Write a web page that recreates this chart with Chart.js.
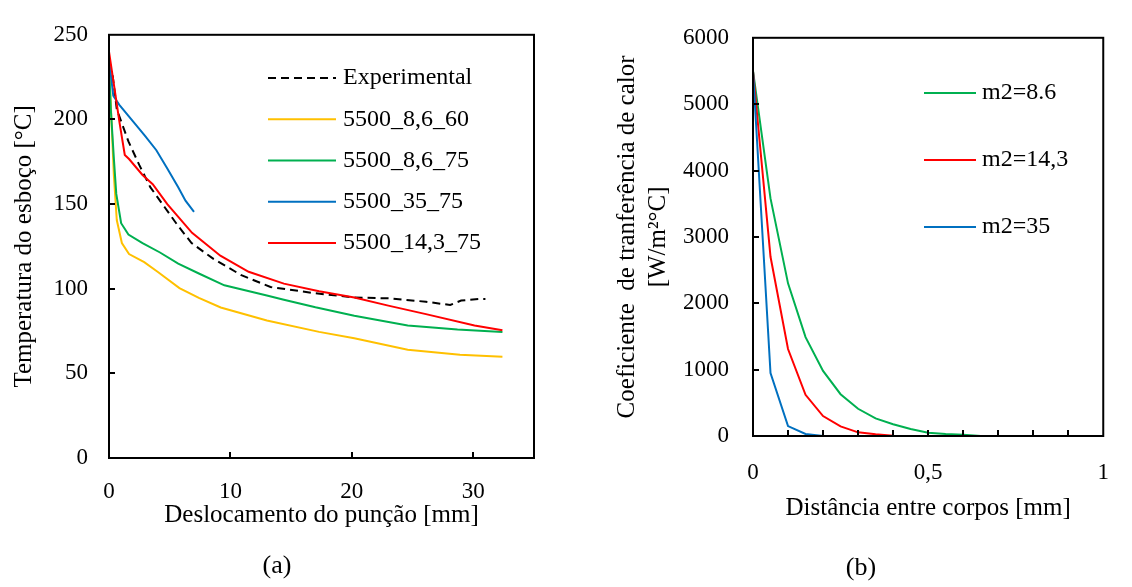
<!DOCTYPE html>
<html>
<head>
<meta charset="utf-8">
<script src="https://cdn.jsdelivr.net/npm/chart.js@4.4.1/dist/chart.umd.min.js"></script>
<style>
  html, body { margin: 0; padding: 0; background: #fff; }
  .box { position: absolute; top: 0; }
</style>
</head>
<body>
<div class="box" style="left:0"><canvas id="chartA" width="554" height="587"></canvas></div>
<div class="box" style="left:590px"><canvas id="chartB" width="542" height="587"></canvas></div>
<script>
// (a) temperatura x deslocamento
const expX = [0.3, 0.64, 1.6, 2.5, 3.4, 4.6, 5.7, 6.8, 8.6, 10.9, 13.3, 16.8, 20.2, 23.2, 26.1, 28.1, 29, 30.6, 31];
const expY = [226, 206, 187, 173, 160, 148, 137, 127, 117.6, 108, 101, 97.5, 94.8, 94.3, 92.3, 90.4, 93, 94, 94];

const s60X = [0, 0.2, 0.4, 0.64, 1.06, 1.65, 2.9, 4.0, 5.8, 7.4, 9.2, 13, 17.3, 20.2, 24.6, 28.9, 32.4];
const s60Y = [234, 200, 167, 140.6, 127, 120.5, 115.7, 110, 100.4, 94.6, 88.9, 81.2, 74.5, 70.7, 64, 61, 59.8];

const s86X = [0, 0.15, 0.4, 0.6, 1.0, 1.6, 2.76, 4.2, 5.7, 7.4, 9.5, 13, 14.4, 17, 20.2, 24.6, 28.7, 32.4];
const s86Y = [232, 206, 177, 156, 138.7, 132, 127, 121.4, 114.8, 109, 102, 96, 93.5, 89, 84, 78.3, 75.9, 74.5];

const s35X = [0, 0.35, 0.85, 2.2, 3.0, 3.9, 4.8, 5.7, 6.3, 7.0];
const s35Y = [236, 214, 208.6, 197, 190, 181.8, 171, 160, 152, 145.4];

const s143X = [0, 0.44, 0.87, 1.3, 1.65, 2.76, 3.6, 4.8, 6.84, 9.17, 11.5, 14.4, 17.3, 20.2, 23, 26.1, 30.1, 32.4];
const s143Y = [240, 219, 198, 179, 176.6, 167.2, 161.7, 150, 133, 119.5, 110, 103, 98.5, 94.8, 90, 85, 78.3, 75.5];

// (b) coeficiente x distancia
const distX = [0, 0.05, 0.1, 0.15, 0.2, 0.25, 0.3, 0.35, 0.4, 0.45, 0.5, 0.55, 0.6, 0.65, 0.7, 0.75, 0.8, 0.85, 0.9, 0.95, 1];
const m86 = [5500, 3580, 2300, 1490, 980, 630, 410, 265, 178, 105, 50, 30, 20, 0, 0, 0, 0, 0, 0, 0, 0];
const m143 = [5500, 2700, 1310, 620, 300, 145, 55, 25, 5, 0, 0, 0, 0, 0, 0, 0, 0, 0, 0, 0, 0];
const m35 = [5500, 950, 150, 30, 0, 0, 0, 0, 0, 0, 0, 0, 0, 0, 0, 0, 0, 0, 0, 0, 0];

const pts = (xs, ys) => xs.map((x, i) => ({x: x, y: ys[i]}));

Chart.defaults.font.family = '"Liberation Serif", "Times New Roman", serif';
Chart.defaults.font.size = 23;
Chart.defaults.color = '#000';

// moldura, marcas internas e legenda dentro do grafico
const frame = {
  id: 'frame',
  afterDatasetsDraw(chart, args, opts) {
    const {ctx, chartArea: a, scales: {x, y}} = chart;
    ctx.save();
    ctx.strokeStyle = '#000';
    ctx.lineWidth = 2;
    ctx.beginPath();
    x.ticks.forEach(t => {
      if (t.value > x.min + 1e-9 && t.value < x.max - 1e-9) {
        const px = Math.round(x.getPixelForValue(t.value));
        ctx.moveTo(px, a.bottom);
        ctx.lineTo(px, a.bottom - opts.len);
      }
    });
    y.ticks.forEach(t => {
      if (t.value > y.min && t.value < y.max) {
        const py = Math.round(y.getPixelForValue(t.value));
        ctx.moveTo(a.left, py);
        ctx.lineTo(a.left + opts.len, py);
      }
    });
    ctx.stroke();
    ctx.strokeRect(a.left, a.top, a.right - a.left, a.bottom - a.top);

    ctx.font = opts.fontSize + 'px "Liberation Serif", serif';
    ctx.textBaseline = 'middle';
    ctx.textAlign = 'left';
    chart.data.datasets.forEach((ds, i) => {
      const ly = opts.y0 + i * opts.dy;
      ctx.beginPath();
      ctx.strokeStyle = ds.borderColor;
      ctx.lineWidth = ds.borderWidth;
      ctx.setLineDash(ds.borderDash || []);
      ctx.moveTo(opts.x0, ly);
      ctx.lineTo(opts.x1, ly);
      ctx.stroke();
      ctx.setLineDash([]);
      ctx.fillStyle = '#000';
      ctx.fillText(ds.label, opts.tx, ly);
    });
    ctx.restore();
  }
};

new Chart(document.getElementById('chartA'), {
  type: 'line',
  data: {
    datasets: [
      {label: 'Experimental', data: pts(expX, expY), borderColor: '#000', borderDash: [8, 5], borderWidth: 2, order: 2},
      {label: '5500_8,6_60', data: pts(s60X, s60Y), borderColor: '#FFC000', borderWidth: 2, order: 4},
      {label: '5500_8,6_75', data: pts(s86X, s86Y), borderColor: '#00B050', borderWidth: 2, order: 3},
      {label: '5500_35_75', data: pts(s35X, s35Y), borderColor: '#0070C0', borderWidth: 2, order: 1},
      {label: '5500_14,3_75', data: pts(s143X, s143Y), borderColor: '#FF0000', borderWidth: 2, order: 0}
    ]
  },
  options: {
    responsive: false,
    animation: false,
    elements: { point: { radius: 0 }, line: { tension: 0 } },
    layout: { padding: { top: 23, right: 16, left: 16, bottom: 0 } },
    scales: {
      x: {
        type: 'linear', min: 0, max: 35,
        grid: { drawOnChartArea: false, drawTicks: false },
        border: { display: false },
        ticks: { stepSize: 10, padding: 20, maxRotation: 0, callback: v => v === 35 ? '' : String(v) },
        title: { display: true, text: 'Deslocamento do punção [mm]', font: { size: 25 }, padding: { top: 0, bottom: 20.8 } },
        afterFit: s => { s.height = 92.8; }
      },
      y: {
        min: 0, max: 250,
        grid: { drawOnChartArea: false, drawTicks: false },
        border: { display: false },
        ticks: { stepSize: 50, padding: 21 },
        title: { display: true, text: 'Temperatura do esboço [°C]', font: { size: 25 }, padding: { top: -7, bottom: 0 } },
        afterFit: s => { s.width = 93; }
      }
    },
    plugins: {
      legend: { display: false },
      tooltip: { enabled: false },
      title: { display: true, position: 'bottom', text: '(a)', font: { size: 26, weight: 'normal' }, padding: { top: 0, bottom: 5 } },
      frame: { len: 6, x0: 268, x1: 336, tx: 343, y0: 78, dy: 41.25, fontSize: 24 }
    }
  },
  plugins: [frame]
});

new Chart(document.getElementById('chartB'), {
  type: 'line',
  data: {
    datasets: [
      {label: 'm2=8.6', data: pts(distX, m86), borderColor: '#00B050', borderWidth: 2, order: 2},
      {label: 'm2=14,3', data: pts(distX, m143), borderColor: '#FF0000', borderWidth: 2, order: 1},
      {label: 'm2=35', data: pts(distX, m35), borderColor: '#0070C0', borderWidth: 2, order: 0}
    ]
  },
  options: {
    responsive: false,
    animation: false,
    elements: { point: { radius: 0 }, line: { tension: 0 } },
    layout: { padding: { top: 31, right: 8, left: 8, bottom: 0 } },
    scales: {
      x: {
        type: 'linear', min: 0, max: 1,
        grid: { drawOnChartArea: false, drawTicks: false },
        border: { display: false },
        ticks: {
          stepSize: 0.1, padding: 23, maxRotation: 0, autoSkip: false,
          callback: v => Math.abs(v) < 1e-9 ? '0' : (Math.abs(v - 0.5) < 1e-9 ? '0,5' : (Math.abs(v - 1) < 1e-9 ? '1' : ''))
        },
        title: { display: true, text: 'Distância entre corpos [mm]', font: { size: 25 }, padding: { top: 0, bottom: 29.4 } },
        afterFit: s => { s.height = 116.4; }
      },
      y: {
        min: 0, max: 6000,
        grid: { drawOnChartArea: false, drawTicks: false },
        border: { display: false },
        ticks: { stepSize: 1000, padding: 24, callback: v => String(v) },
        title: { display: true, text: ['Coeficiente  de tranferência de calor', '[W/m²°C]'], font: { size: 25, lineHeight: 1.24 }, padding: { top: 13.5, bottom: 0 } },
        afterFit: s => { s.width = 155; }
      }
    },
    plugins: {
      legend: { display: false },
      tooltip: { enabled: false },
      title: { display: true, position: 'bottom', text: '(b)', font: { size: 26, weight: 'normal' }, padding: { top: 0, bottom: 3.4 } },
      frame: { len: 6, x0: 334, x1: 386, tx: 392, y0: 93, dy: 67, fontSize: 24 }
    }
  },
  plugins: [frame]
});
</script>
</body>
</html>
